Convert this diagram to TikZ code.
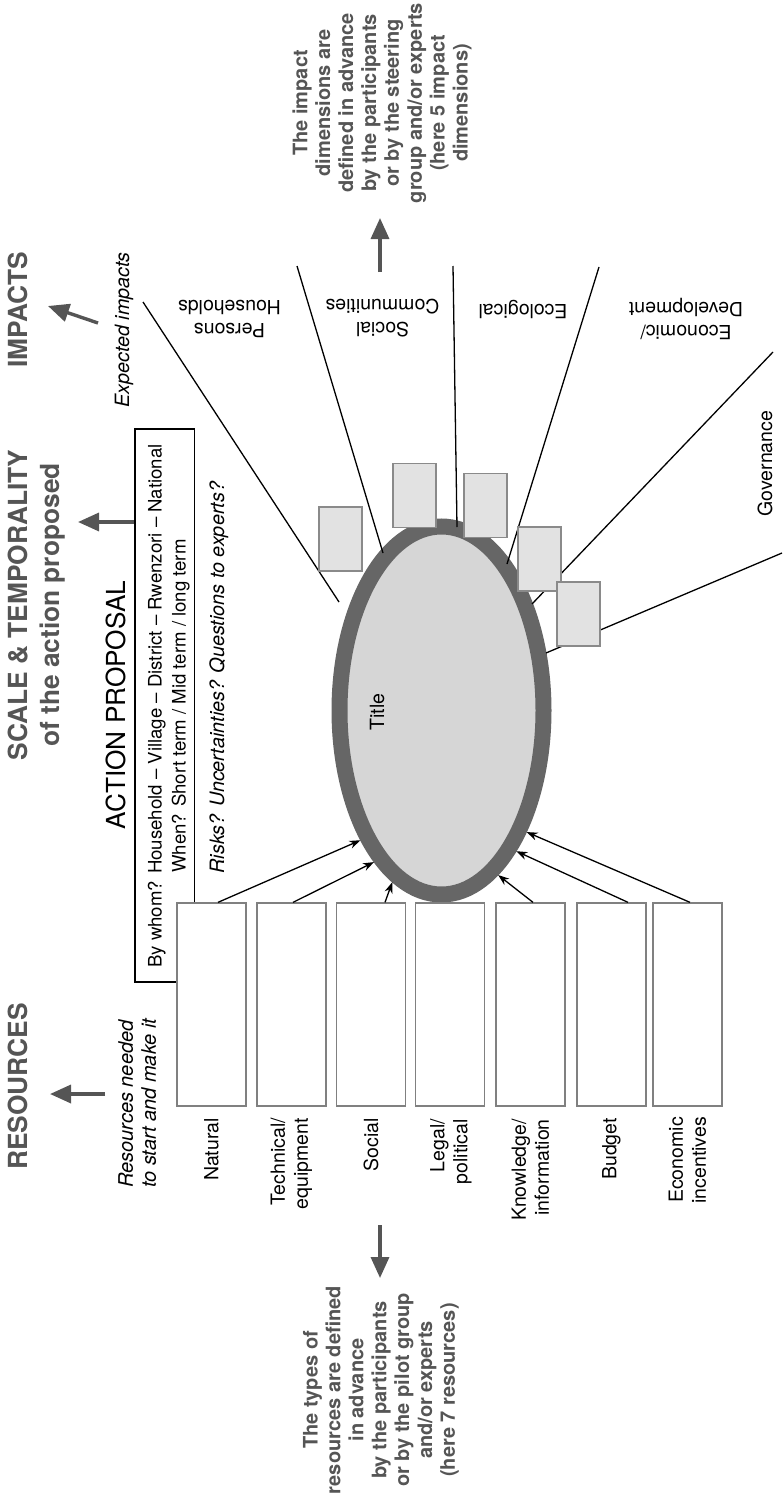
\documentclass[tikz,border=0pt]{standalone}
\usepackage{fontspec}
\setmainfont{TeX Gyre Heros}
\usetikzlibrary{arrows.meta,shapes.geometric}
\definecolor{hgray}{HTML}{555555}
\definecolor{ringgray}{HTML}{666666}
\definecolor{ellfill}{HTML}{D6D6D6}
\definecolor{ibfill}{HTML}{E2E2E2}
\definecolor{ibdraw}{HTML}{8A8A8A}
\definecolor{rbdraw}{HTML}{808080}
\tikzset{
 hdr/.style={font=\bfseries\fontsize{26.3}{32}\selectfont, text=hgray, align=center, rotate=90, inner sep=0pt},
 notetext/.style={font=\bfseries\fontsize{20}{22.9}\selectfont, text=hgray, align=center, rotate=90, inner sep=0pt},
 bigarr/.style={draw=hgray, line width=3.4pt, -{Triangle[length=21pt,width=18pt]}},
 resbox/.style={draw=rbdraw, line width=1.3pt, fill=white, minimum width=69pt, minimum height=203pt, inner sep=0pt},
 impbox/.style={draw=ibdraw, line width=1.3pt, fill=ibfill, minimum width=43pt, minimum height=64pt, inner sep=0pt},
 reslabel/.style={font=\fontsize{19.5}{23}\selectfont, align=right, rotate=90, anchor=east, inner sep=0pt},
 implabel/.style={font=\fontsize{19.5}{23}\selectfont, align=center, rotate=180, inner sep=0pt},
 uptext/.style={rotate=90, anchor=base, inner sep=0pt},
 divline/.style={line width=1.3pt},
 resarr/.style={line width=1.3pt, -{Stealth[length=11pt,width=8pt]}},
}
\begin{document}
\begin{tikzpicture}[x=1pt,y=-1pt]
\useasboundingbox (0,0) rectangle (782,1498);

% headers
\node[hdr] (reshead) at (18,1086.5) {RESOURCES};
\node[hdr] (scalehead) at (37,605) {SCALE \& TEMPORALITY\\of the action proposed};
\node[hdr] (imphead) at (18,310) {IMPACTS};

% explanation notes
\node[notetext] (impnote) at (382,103) {The impact\\dimensions are\\defined in advance\\by the participants\\or by the steering\\group and/or experts\\(here 5 impact\\dimensions)};
\node[notetext] (resnote) at (381,1390) {The types of\\resources are defined\\in advance\\by the participants\\or by the pilot group\\and/or experts\\(here 7 resources)};

% italic captions
\node[uptext, font=\itshape\fontsize{19.7}{23}\selectfont] (expimp) at (129,330) {Expected impacts};
\node[rotate=90, anchor=north west, align=left, inner sep=0pt, font=\itshape\fontsize{20}{23}\selectfont] (resneed) at (118,1188) {Resources needed\\to start and make it};

% action proposal
\node[draw, line width=1.2pt, minimum width=59.5pt, minimum height=553pt, inner sep=0pt] (apbox) at (164.75,705.5) {};
\node[uptext, font=\fontsize{26.2}{30}\selectfont] (aptitle) at (125.5,705) {ACTION PROPOSAL};
\node[uptext, font=\fontsize{18.6}{23}\selectfont] (who) at (161.5,706) {By whom? Household – Village – District – Rwenzori – National};
\node[uptext, font=\fontsize{18.6}{23}\selectfont] (when) at (185.5,706) {When? Short term / Mid term / long term};
\node[uptext, font=\itshape\fontsize{19.8}{23}\selectfont] (risks) at (224,677.5) {Risks? Uncertainties? Questions to experts?};

% big grey arrows
\coordinate (ra1) at (105,1094); \coordinate (ra2) at (50,1094);
\draw[bigarr] (ra1) -- (ra2);
\coordinate (sa2) at (78,522);
\draw[bigarr] (apbox.west |- sa2) -- (sa2);
\coordinate (ia1) at (98,323); \coordinate (ia2) at (48,306);
\draw[bigarr] (ia1) -- (ia2);
\coordinate (na1) at (380,272); \coordinate (na2) at (380,218);
\draw[bigarr] (na1) -- (na2);
\coordinate (rn1) at (380,1225); \coordinate (rn2) at (380,1278);
\draw[bigarr] (rn1) -- (rn2);

% ellipse
\node[ellipse, draw=ringgray, fill=ellfill, line width=16pt, minimum width=204pt, minimum height=368pt, inner sep=0pt, outer sep=8pt] (ell) at (441.5,710.5) {};
\node[uptext, font=\fontsize{19.6}{23}\selectfont] (title) at (384,712) {Title};

% impact dividing lines
\coordinate (i1o) at (143,302); \coordinate (i1e) at (339,602);
\coordinate (i2o) at (297,266); \coordinate (i2e) at (383,553);
\coordinate (i3o) at (453,266); \coordinate (i3e) at (457,527);
\coordinate (i4o) at (599,267); \coordinate (i4e) at (507,564);
\coordinate (i5o) at (773,352); \coordinate (i5e) at (532,604);
\coordinate (i6o) at (782,553); \coordinate (i6e) at (546,653);
\draw[divline] (i1o) -- (i1e);
\draw[divline] (i2o) -- (i2e);
\draw[divline] (i3o) -- (i3e);
\draw[divline] (i4o) -- (i4e);
\draw[divline] (i5o) -- (i5e);
\draw[divline] (i6o) -- (i6e);

% impact boxes
\node[impbox] (ib1) at (340.5,539) {};
\node[impbox] (ib2) at (414.5,495.5) {};
\node[impbox] (ib3) at (485.5,505.5) {};
\node[impbox] (ib4) at (539.5,559) {};
\node[impbox] (ib5) at (578.5,614) {};

% impact labels
\node[implabel] (p1) at (229.5,318.5) {Persons\\Households};
\node[implabel] (p2) at (382.5,318.5) {Social\\Communities};
\node[implabel] (p3) at (523,309) {Ecological};
\node[implabel] (p4) at (686,319) {Economic/\\Development};
\node[uptext, font=\fontsize{19.5}{23}\selectfont] (p5) at (772,463.5) {Governance};

% resource boxes
\node[resbox] (nat) at (211.5,1004.5) {};
\node[resbox] (tec) at (291.5,1004.5) {};
\node[resbox] (soc) at (371,1004.5) {};
\node[resbox] (leg) at (450,1004.5) {};
\node[resbox] (kno) at (530.5,1004.5) {};
\node[resbox] (bud) at (611.5,1004.5) {};
\node[resbox] (eco) at (687.5,1004.5) {};

% resource labels
\node[reslabel] (l1) at (211.5,1118) {Natural};
\node[reslabel] (l2) at (291.5,1118) {Technical/\\equipment};
\node[reslabel] (l3) at (371,1118) {Social};
\node[reslabel] (l4) at (451,1119) {Legal/\\political};
\node[reslabel] (l5) at (530.5,1119) {Knowledge/\\information};
\node[reslabel] (l6) at (611.5,1118) {Budget};
\node[reslabel] (l7) at (687.5,1117) {Economic\\incentives};

% resource arrows
\draw[resarr] ([xshift=6.5pt]nat.north) -- (ell.238.5);
\draw[resarr] ([xshift=1.5pt]tec.north) -- (ell.246.6);
\draw[resarr] ([xshift=14pt]soc.north) -- (ell.254.8);
\draw[resarr] ([xshift=2.5pt]kno.north) -- (ell.289.7);
\draw[resarr] ([xshift=16.5pt]bud.north) -- (ell.298.7);
\draw[resarr] ([xshift=2.5pt]eco.north) -- (ell.305.3);
\end{tikzpicture}
\end{document}
